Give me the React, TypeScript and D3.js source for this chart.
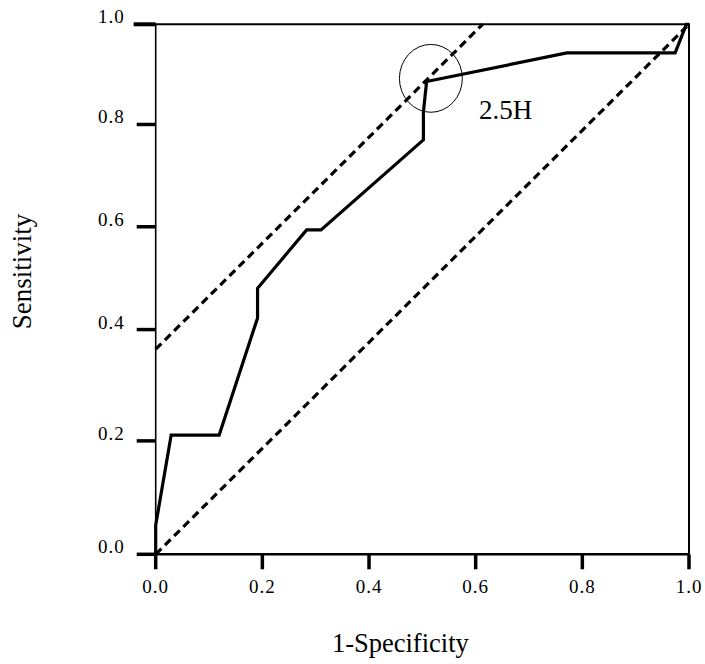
import React from "react";
import * as d3 from "d3";

// ROC curve (1-Specificity, Sensitivity)
const rocFpr = [0, 0, 0.029, 0.119, 0.191, 0.191, 0.283, 0.31, 0.502, 0.502, 0.508, 0.771, 0.974, 0.995, 1];
const rocTpr = [0, 0.055, 0.225, 0.225, 0.446, 0.502, 0.612, 0.612, 0.782, 0.835, 0.892, 0.946, 0.946, 1.0, 1.0];

// reference diagonal and upper parallel line
const diagFpr = [0, 1];
const diagTpr = [0, 1];
const upperFpr = [0, 0.613];
const upperTpr = [0.387, 1];

// tick labels and where they sit on each axis
const xTickLabels = ["0.0", "0.2", "0.4", "0.6", "0.8", "1.0"];
const xTickAt = [0, 0.2, 0.4, 0.6, 0.8, 1.0];
const yTickLabels = ["0.0", "0.2", "0.4", "0.6", "0.8", "1.0"];
const yTickAt = [0, 0.214, 0.424, 0.618, 0.811, 1.0];

// highlighted operating point
const markFpr = 0.516;
const markTpr = 0.898;
const markRadiusX = 0.059;
const markRadiusY = 0.064;
const markLabel = "2.5H";
const markLabelFpr = 0.606;
const markLabelTpr = 0.821;

const xTitle = "1-Specificity";
const yTitle = "Sensitivity";

const W = 705;
const H = 664;
const M = { left: 155.7, right: 16, top: 24.3, bottom: 109.7 };

export default function App() {
  const x = d3.scaleLinear().domain([0, 1]).range([M.left, W - M.right]);
  const y = d3.scaleLinear().domain([0, 1]).range([H - M.bottom, M.top]);
  const line = d3
    .line<[number, number]>()
    .x((d) => x(d[0]))
    .y((d) => y(d[1]));
  const zip = (a: number[], b: number[]) => a.map((v, i) => [v, b[i]] as [number, number]);
  const font = "'Liberation Serif', 'Times New Roman', serif";
  const x0 = x(0), x1 = x(1), y0 = y(0), y1 = y(1);

  return (
    <svg
      width={W}
      height={H}
      style={{ position: "absolute", left: 0, top: 0, display: "block", background: "#fff" }}
    >
      {/* frame */}
      <line x1={x0} x2={x0} y1={y1} y2={y0} stroke="#000" strokeWidth={1.6} />
      <line x1={x0 - 18} x2={x1} y1={y0} y2={y0} stroke="#000" strokeWidth={2.5} />
      <line x1={x0 - 22} x2={x1 + 1} y1={y1} y2={y1} stroke="#000" strokeWidth={2} />
      <line x1={x1} x2={x1} y1={y1} y2={y0} stroke="#000" strokeWidth={2} />

      {/* x ticks */}
      {xTickAt.map((t, i) => (
        <g key={"xt" + i}>
          <line x1={x(t)} x2={x(t)} y1={y0} y2={y0 + 15} stroke="#000" strokeWidth={3.5} />
          <text
            x={x(t)}
            y={y0 + 38.5}
            textAnchor="middle"
            fontFamily={font}
            fontSize={19}
            letterSpacing={1}
          >
            {xTickLabels[i]}
          </text>
        </g>
      ))}

      {/* y ticks */}
      {yTickAt.map((t, i) => (
        <g key={"yt" + i}>
          <line x1={x0 - (i === 5 ? 22 : 19)} x2={x0} y1={y(t)} y2={y(t)} stroke="#000" strokeWidth={i === 5 ? 4 : 3.5} />
          <text
            x={x0 - 31}
            y={y(t) - 1}
            textAnchor="end"
            fontFamily={font}
            fontSize={19}
            letterSpacing={1}
          >
            {yTickLabels[i]}
          </text>
        </g>
      ))}

      {/* dashed reference lines */}
      <path d={line(zip(diagFpr, diagTpr)) || ""} fill="none" stroke="#000" strokeWidth={3.2} strokeDasharray="8,5" />
      <path d={line(zip(upperFpr, upperTpr)) || ""} fill="none" stroke="#000" strokeWidth={3.2} strokeDasharray="8,5" />

      {/* ROC curve */}
      <path
        d={line(zip(rocFpr, rocTpr)) || ""}
        fill="none"
        stroke="#000"
        strokeWidth={3.2}
        strokeLinejoin="miter"
      />

      {/* marked point */}
      <ellipse
        cx={x(markFpr)}
        cy={y(markTpr)}
        rx={x(markRadiusX) - x(0)}
        ry={y(0) - y(markRadiusY)}
        fill="none"
        stroke="#000"
        strokeWidth={1}
      />
      <text x={x(markLabelFpr)} y={y(markLabelTpr)} fontFamily={font} fontSize={27}>
        {markLabel}
      </text>

      {/* axis titles */}
      <text x={(x0 + x1) / 2 - 22} y={652} textAnchor="middle" fontFamily={font} fontSize={26.5}>
        {xTitle}
      </text>
      <text
        transform={`translate(31, 271.5) rotate(-90)`}
        textAnchor="middle"
        fontFamily={font}
        fontSize={27}
      >
        {yTitle}
      </text>
    </svg>
  );
}
